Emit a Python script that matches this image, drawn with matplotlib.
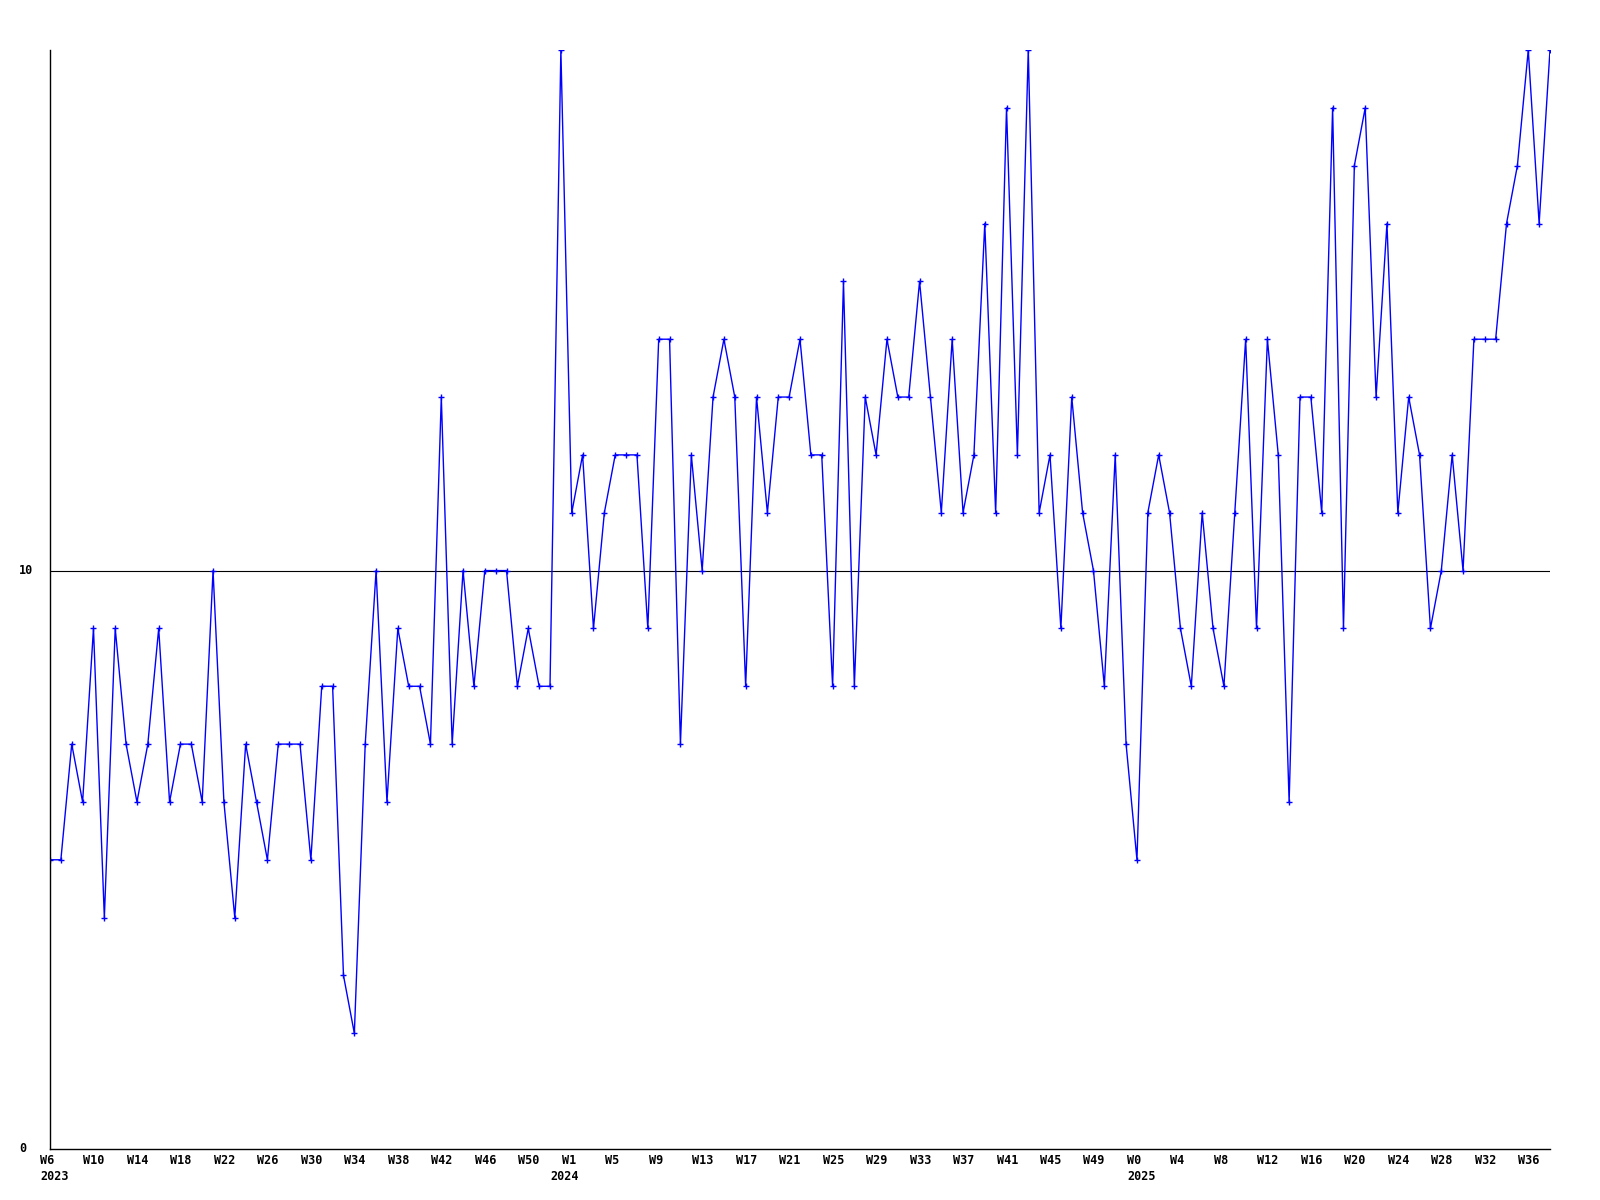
import matplotlib
matplotlib.use("Agg")
import matplotlib.pyplot as plt
import matplotlib.transforms as mtransforms

# -------------------------
# data: weekly values, 2023 W6 .. 2025 W38 (Sunday-based week numbers)
# -------------------------
weeks_2023 = list(range(6, 53))   # W6..W52
weeks_2024 = list(range(0, 53))   # W0..W52
weeks_2025 = list(range(0, 39))   # W0..W38

values = [
    5, 5, 7, 6, 9, 4, 9, 7, 6, 7, 9, 6, 7, 7, 6, 10, 6, 4, 7, 6, 5, 7, 7, 7,
    5, 8, 8, 3, 2, 7, 10, 6, 9, 8, 8, 7, 13, 7, 10, 8, 10, 10, 10, 8, 9, 8, 8,
    19, 11, 12, 9, 11, 12, 12, 12, 9, 14, 14, 7, 12, 10, 13, 14, 13, 8, 13, 11,
    13, 13, 14, 12, 12, 8, 15, 8, 13, 12, 14, 13, 13, 15, 13, 11, 14, 11, 12,
    16, 11, 18, 12, 19, 11, 12, 9, 13, 11, 10, 8, 12, 7, 5, 11, 12, 11, 9, 8,
    11, 9, 8, 11, 14, 9, 14, 12, 6, 13, 13, 11, 18, 9, 17, 18, 13, 16, 11, 13,
    12, 9, 10, 12, 10, 14, 14, 14, 16, 17, 19, 16, 19,
]

# labelled weeks per year
tick_weeks = {
    2023: [6, 10, 14, 18, 22, 26, 30, 34, 38, 42, 46, 50],
    2024: [1, 5, 9, 13, 17, 21, 25, 29, 33, 37, 41, 45, 49],
    2025: [0, 4, 8, 12, 16, 20, 24, 28, 32, 36],
}

years = [2023] * len(weeks_2023) + [2024] * len(weeks_2024) + [2025] * len(weeks_2025)
weeks = weeks_2023 + weeks_2024 + weeks_2025
x = list(range(len(values)))

FONT = dict(family="DejaVu Sans Mono", weight="bold", size=8.5)

fig = plt.figure(figsize=(16, 12), dpi=100)
ax = fig.add_axes([50 / 1600, 51 / 1200, 1500 / 1600, 1099 / 1200])

ax.plot(x, values, color="#0000ff", lw=1.0, marker="+", ms=4.5, mew=1.0)
ax.axhline(10, color="black", lw=0.8, zorder=0)

ax.set_xlim(0, len(values) - 1)
ax.set_ylim(0, 19)
for s in ["top", "right"]:
    ax.spines[s].set_visible(False)
ax.spines["left"].set_linewidth(1.0)
ax.spines["bottom"].set_linewidth(1.0)
ax.set_xticks([])
ax.set_yticks([])

# y labels
ytrans = mtransforms.blended_transform_factory(fig.transFigure, ax.transData)
for v in [0, 10]:
    ax.text(19 / 1600, v, str(v), transform=ytrans, ha="left", va="center", **FONT)

# x labels, left edge ~10px before the point; year under first point of year
xtrans = mtransforms.blended_transform_factory(ax.transData, fig.transFigure) + \
    mtransforms.ScaledTranslation(-10 / 100, 0, fig.dpi_scale_trans)
prev_year = None
for i, (yr, wk) in enumerate(zip(years, weeks)):
    if wk in tick_weeks[yr]:
        ax.text(i, 1 - 1161 / 1200, f"W{wk}", transform=xtrans, ha="left",
                va="center", **FONT)
    if yr != prev_year:
        ax.text(i, 1 - 1177 / 1200, str(yr), transform=xtrans, ha="left",
                va="center", **FONT)
        prev_year = yr

fig.savefig("out.png", dpi=100, facecolor="white")
